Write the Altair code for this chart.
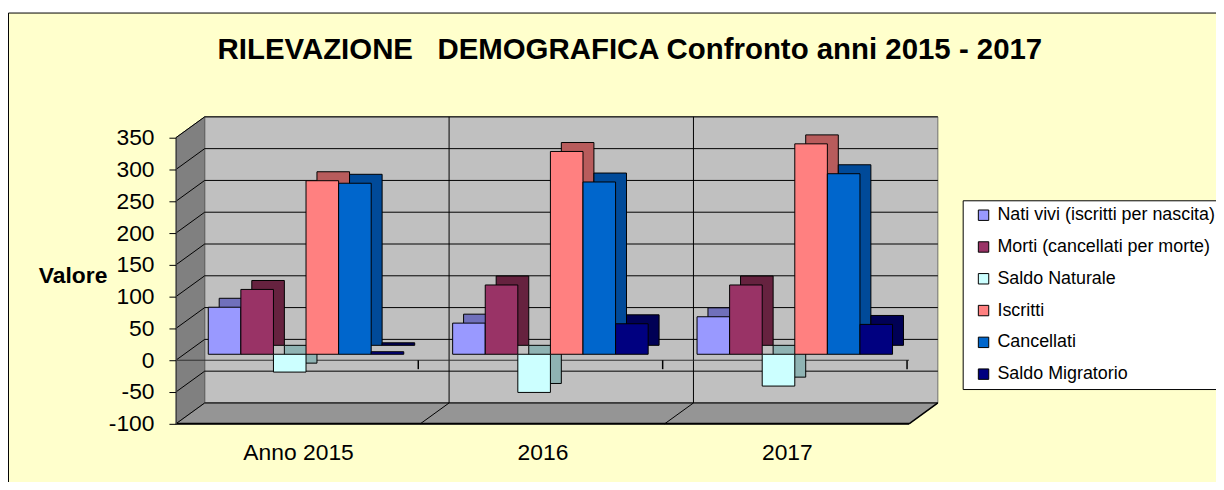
import altair as alt
import pandas as pd

# ---------------- data ----------------
anni = ["Anno 2015", "2016", "2017"]
serie = ["Nati vivi (iscritti per nascita)", "Morti (cancellati per morte)",
         "Saldo Naturale", "Iscritti", "Cancellati", "Saldo Migratorio"]
nati_vivi = [74, 49, 59]
morti = [102, 109, 109]
saldo_naturale = [-28, -60, -50]
iscritti = [273, 319, 331]
cancellati = [269, 271, 284]
saldo_migratorio = [4, 48, 47]
tick_valori = [-100, -50, 0, 50, 100, 150, 200, 250, 300, 350]
colori = ["#9999FF", "#993366", "#CCFFFF", "#FF8080", "#0066CC", "#000080"]
colori_lato = ["#7070BB", "#66223F", "#8FB3B3", "#B85C5C", "#004A99", "#000055"]
titolo = "RILEVAZIONE\u00a0\u00a0\u00a0DEMOGRAFICA Confronto anni 2015 - 2017"
titolo_asse = "Valore"

valori = [nati_vivi, morti, saldo_naturale, iscritti, cancellati, saldo_migratorio]
rows = []
for s, vals in zip(serie, valori):
    for a, v in zip(anni, vals):
        rows.append({"anno": a, "serie": s, "valore": v})
df = pd.DataFrame(rows)

# ---------------- geometry / style ----------------
W, H = 738, 288          # front plane of the 3D box
DX, DY = 29, -21         # depth of the box
BX, BY = 11, -9          # depth of each bar
HB = W / len(anni) / 2   # half band (centre -> right edge of a category)
FONT = "Liberation Sans"
ydom = [-100, 350]

one = pd.DataFrame({"k": [0]})
ticks_df = pd.DataFrame({"v": tick_valori})
bound_df = pd.DataFrame({"anno": anni, "v": [0] * len(anni)})
zero_df = pd.DataFrame({"v": [0]})

x_dec = alt.Scale(domain=anni, range=[0, W], paddingInner=0, paddingOuter=0)
y_dec = alt.Scale(domain=ydom, nice=False)

y_axis = alt.Axis(
    values=tick_valori, labelExpr="'' + datum.value",
    labelFontSize=23, labelFont=FONT, labelColor="black",
    tickSize=7, tickColor="black", labelPadding=15, domain=True, domainColor="#404040",
    grid=False, labelFlush=False, labelOverlap=False, zindex=1,
    title=titolo_asse, titleFontSize=23, titleFont=FONT, titleFontWeight="bold",
    titleColor="black", titleAngle=0, titleAlign="center", titleBaseline="middle",
    titleX=-104, titleY=139)
x_axis = alt.Axis(labelFontSize=23, labelFont=FONT, labelColor="black", labelAngle=0,
                  ticks=False, domain=False, title=None, labelPadding=18,
                  bandPosition=0.5, zindex=1)


def shape(path, data=one, **kw):
    return alt.Chart(data).mark_point(shape=path, size=4, opacity=1, **kw)


bg = alt.Chart(one).mark_rect(fill="#FFFFCC", stroke="black", strokeWidth=1).encode(
    x=alt.value(-168.5), x2=alt.value(1300), y=alt.value(-125.5), y2=alt.value(600))

back_wall = alt.Chart(one).mark_rect(fill="#C0C0C0", stroke="#707070", strokeWidth=1).encode(
    x=alt.value(DX), x2=alt.value(W + DX), y=alt.value(DY), y2=alt.value(H + DY))

side_wall = shape(f"M0,0 L{DX},{DY} L{DX},{H + DY} L0,{H} Z",
                  filled=True, fill="#808080", stroke="#606060", strokeWidth=1).encode(
    x=alt.value(0), y=alt.value(0))

floor = shape(f"M0,{H} L{DX},{H + DY} L{W + DX},{H + DY} L{W},{H} Z",
              filled=True, fill="#959595", stroke="#707070", strokeWidth=1).encode(
    x=alt.value(0), y=alt.value(0))

grid = shape(f"M0,0 L{DX},{DY} L{W + DX},{DY}", data=ticks_df,
             filled=False, stroke="black", strokeWidth=1).encode(
    x=alt.value(0),
    y=alt.Y("v:Q", scale=y_dec, axis=y_axis))

separators = shape(f"M{HB},0 L{HB + DX},{DY} L{HB + DX},{DY - H}", data=bound_df.iloc[:2],
                   filled=False, stroke="black", strokeWidth=1).encode(
    x=alt.X("anno:N", scale=x_dec, axis=x_axis),
    y=alt.value(H))

zero_line = alt.Chart(zero_df).mark_rule(color="#303030", strokeWidth=1).encode(
    y=alt.Y("v:Q", scale=y_dec, axis=y_axis), x=alt.value(0), x2=alt.value(W))

zero_ticks = shape(f"M{HB - 2},0 L{HB - 2},9", data=bound_df, filled=False, stroke="black",
                   strokeWidth=1.5).encode(
    x=alt.X("anno:N", scale=x_dec, axis=x_axis),
    y=alt.Y("v:Q", scale=y_dec, axis=y_axis))

floor_edge = alt.Chart(one).mark_rule(color="black", strokeWidth=2).encode(
    x=alt.value(0), x2=alt.value(W), y=alt.value(H))

floor_diag = shape(f"M{W},{H} L{W + DX},{H + DY}", filled=False, stroke="black",
                   strokeWidth=1.5).encode(x=alt.value(0), y=alt.value(0))

decor = alt.layer(back_wall, side_wall, floor, grid, separators, zero_line,
                  zero_ticks, floor_edge, floor_diag)


def bars(dx, dy, cols, legend):
    return alt.Chart(df).mark_bar(stroke="black", strokeWidth=1, opacity=1).encode(
        x=alt.X("anno:N", scale=alt.Scale(domain=anni, range=[dx, W + dx],
                                         paddingInner=0.2, paddingOuter=0.1), axis=None),
        xOffset=alt.XOffset("serie:N", scale=alt.Scale(domain=serie, paddingInner=0,
                                                       paddingOuter=0)),
        y=alt.Y("valore:Q", scale=alt.Scale(domain=ydom, nice=False, range=[H + dy, dy]),
                axis=None),
        color=alt.Color("serie:N", scale=alt.Scale(domain=serie, range=cols), legend=legend),
    )


legend = alt.Legend(orient="none", legendX=792, legendY=63, title=None,
                    labelFontSize=18, labelFont=FONT, labelColor="black", labelLimit=400,
                    symbolType="square", symbolSize=110, symbolStrokeColor="black",
                    symbolStrokeWidth=1, symbolOpacity=1, strokeColor="black",
                    fillColor="white", padding=6, rowPadding=14, symbolOffset=6,
                    labelOffset=5)

bars_back = bars(8 + BX, -6 + BY, colori_lato, None)
bars_front = bars(8, -6, colori, legend)

title_text = alt.Chart(one).mark_text(
    text=titolo, fontSize=29.6, fontWeight="bold", font=FONT, align="center",
    baseline="alphabetic", color="black").encode(x=alt.value(457), y=alt.value(-79))

chart = alt.layer(bg, decor, bars_back, bars_front, title_text).resolve_scale(
    x="independent", y="independent", color="independent", xOffset="independent"
).properties(
    width=W, height=H,
    autosize=alt.AutoSizeParams(type="none"),
    padding={"left": 169, "top": 129, "right": 309, "bottom": 57},
    background="white",
).configure_view(stroke=None)

chart.save("out.html", embed_options={"renderer": "svg", "actions": False})
